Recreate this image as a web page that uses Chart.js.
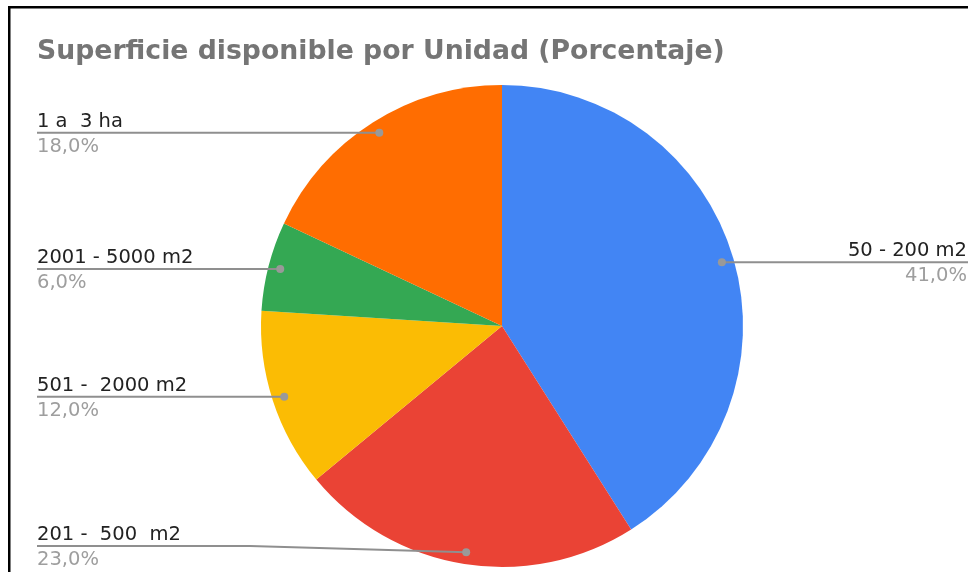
<!DOCTYPE html>
<html><head><meta charset="utf-8">
<script src="https://cdn.jsdelivr.net/npm/chart.js@4/dist/chart.umd.min.js"></script>
<style>html,body{margin:0;padding:0;background:#fff}#wrap{width:968px;height:572px;position:relative}canvas{display:block}</style>
</head><body><div id="wrap"><canvas id="c" width="968" height="572"></canvas></div>
<script>
const chartTitle = 'Superficie disponible por Unidad (Porcentaje)';
const categories = ['50 - 200 m2', '201 -  500  m2', '501 -  2000 m2', '2001 - 5000 m2', '1 a  3 ha'];
const percentages = [41.0, 23.0, 12.0, 6.0, 18.0];
const sliceColors = ['#4285F4', '#EA4335', '#FBBC04', '#34A853', '#FF6D01'];

const FONT = '"DejaVu Sans", Verdana, sans-serif';
const fmtPct = v => v.toFixed(1).replace('.', ',') + '%';

const decorPlugin = {
  id: 'decor',
  beforeDraw(chart) {
    const ctx = chart.ctx;
    ctx.save();
    ctx.fillStyle = '#fff';
    ctx.fillRect(0, 0, chart.width, chart.height);
    ctx.fillStyle = '#000';
    ctx.fillRect(8, 6, chart.width - 8, 2.5);
    ctx.fillRect(8, 6, 2.5, chart.height - 6);
    ctx.fillStyle = '#757575';
    ctx.font = 'bold 26.7px ' + FONT;
    ctx.textBaseline = 'alphabetic';
    ctx.textAlign = 'left';
    ctx.fillText(chartTitle, 37, 59);
    ctx.restore();
  },
  afterDatasetsDraw(chart) {
    const ctx = chart.ctx;
    const meta = chart.getDatasetMeta(0);
    ctx.save();
    ctx.font = '19.5px ' + FONT;
    meta.data.forEach((arc, i) => {
      const p = arc.getProps(['x', 'y', 'startAngle', 'endAngle', 'outerRadius'], true);
      const mid = (p.startAngle + p.endAngle) / 2;
      const r = p.outerRadius * 0.95;
      const dx = p.x + Math.cos(mid) * r;
      const dy = p.y + Math.sin(mid) * r;
      const left = dx < p.x;
      const ly = Math.min(dy, chart.height - 26);
      ctx.strokeStyle = '#8f8f8f';
      ctx.lineWidth = 2;
      ctx.beginPath();
      if (left) {
        ctx.moveTo(37, ly);
        if (Math.abs(ly - dy) > 0.5) ctx.lineTo(250, ly);
        ctx.lineTo(dx, dy);
      } else {
        ctx.moveTo(chart.width, ly);
        if (Math.abs(ly - dy) > 0.5) ctx.lineTo(chart.width - 213, ly);
        ctx.lineTo(dx, dy);
      }
      ctx.stroke();
      ctx.fillStyle = '#999';
      ctx.beginPath();
      ctx.arc(dx, dy, 4, 0, Math.PI * 2);
      ctx.fill();
      ctx.textAlign = left ? 'left' : 'right';
      const tx = left ? 37 : chart.width - 1;
      ctx.fillStyle = '#222';
      ctx.fillText(categories[i], tx, ly - 6);
      ctx.fillStyle = '#9e9e9e';
      ctx.fillText(fmtPct(percentages[i]), tx, ly + 19);
    });
    ctx.restore();
  }
};

new Chart(document.getElementById('c'), {
  type: 'pie',
  data: {
    labels: categories,
    datasets: [{
      data: percentages,
      backgroundColor: sliceColors,
      borderWidth: 0,
      hoverOffset: 0
    }]
  },
  options: {
    responsive: false,
    animation: false,
    layout: { padding: { top: 85, bottom: 5, left: 261, right: 225 } },
    plugins: { legend: { display: false }, tooltip: { enabled: false }, title: { display: false } }
  },
  plugins: [decorPlugin]
});
</script>
</body></html>
